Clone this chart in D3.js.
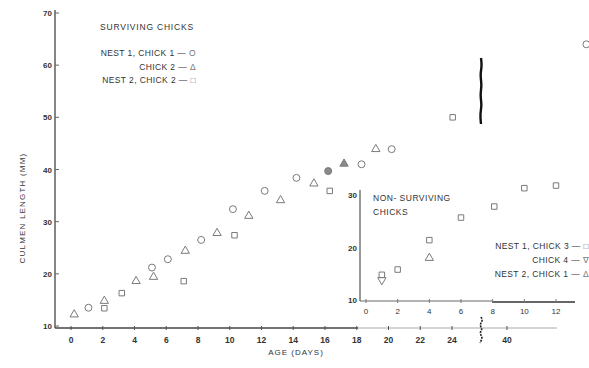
<!DOCTYPE html>
<html><head><meta charset="utf-8">
<script src="https://cdn.jsdelivr.net/npm/d3@7"></script>
<style>
body{margin:0;background:#fff;}
text{font-family:"Liberation Sans","DejaVu Sans",sans-serif;fill:#333;}
</style></head>
<body><svg id="c" width="589" height="368"></svg>
<script>
// ---- data (surviving chicks, main panel) ----
const n1c1Days = [1.1, 5.1, 6.1, 8.2, 10.2, 12.2, 14.2, 16.2, 18.3, 20.2, 45];
const n1c1Len  = [13.5, 21.2, 22.8, 26.5, 32.4, 35.9, 38.4, 39.7, 41.0, 43.9, 64.0];
const n1c2Days = [0.2, 2.1, 4.1, 5.2, 7.2, 9.2, 11.2, 13.2, 15.3, 17.2, 19.2];
const n1c2Len  = [12.2, 14.8, 18.6, 19.4, 24.4, 27.8, 31.1, 34.1, 37.3, 41.1, 43.9];
const n2c2Days = [2.1, 3.2, 7.1, 10.3, 16.3, 24.2];
const n2c2Len  = [13.4, 16.3, 18.6, 27.4, 35.9, 50.0];
const filledDays = [16.2, 17.2];
const mainXTicks = [0,2,4,6,8,10,12,14,16,18,20,22,24,40];
const mainYTicks = [10,20,30,40,50,60,70];
// ---- data (non-surviving chicks, inset) ----
const n1c3Days = [1, 2, 4, 6, 8.1, 10, 12];
const n1c3Len  = [14.8, 15.8, 21.4, 25.7, 27.8, 31.3, 31.8];
const n1c4Days = [1];
const n1c4Len  = [13.8];
const n2c1Days = [4];
const n2c1Len  = [18.0];
const insetXTicks = [0,2,4,6,8,10,12];
const insetYTicks = [10,20,30];

const svg = d3.select("#c");
const grey = "#7a7a7a";

// main scales (broken axis between 24 and 40 days)
const x = d3.scaleLinear().domain([0, 24, 40, 45]).range([71, 452, 507, 586.4]);
const y = d3.scaleLinear().domain([10, 70]).range([326, 13]);

// main y axis
svg.append("line").attr("x1",55).attr("x2",55).attr("y1",10).attr("y2",328)
  .attr("stroke","#444").attr("stroke-width",1.3);
mainYTicks.forEach(v=>{
  svg.append("line").attr("x1",55).attr("x2",59).attr("y1",y(v)).attr("y2",y(v)).attr("stroke","#666");
  svg.append("text").attr("x",52).attr("y",y(v)+3).attr("text-anchor","end")
    .attr("font-size",8).attr("font-weight","bold").text(v);
});
// main x axis
svg.append("line").attr("x1",55).attr("x2",358).attr("y1",328).attr("y2",328)
  .attr("stroke","#444").attr("stroke-width",1.3);
svg.append("line").attr("x1",358).attr("x2",557).attr("y1",328).attr("y2",328)
  .attr("stroke","#aaa").attr("stroke-width",1);
mainXTicks.forEach(v=>{
  svg.append("line").attr("x1",x(v)).attr("x2",x(v)).attr("y1",326).attr("y2",330).attr("stroke","#555");
  svg.append("text").attr("x",x(v)).attr("y",343).attr("text-anchor","middle")
    .attr("font-size",8.5).attr("font-weight","bold").text(v);
});
// axis break squiggle
const sq = d3.line().curve(d3.curveBasis);
svg.append("path").attr("d", sq([[481,317],[483,321],[479,325],[483,329],[479,333],[483,337],[480,343]]))
  .attr("fill","none").attr("stroke","#222").attr("stroke-width",1.6).attr("stroke-dasharray","2,1");
// break line in the plot area
svg.append("path").attr("d", sq([[481,58],[482,66],[480,75],[482,85],[480,95],[482,105],[480,114],[481,124]]))
  .attr("fill","none").attr("stroke","#111").attr("stroke-width",2.4);

// titles
svg.append("text").attr("x",296).attr("y",355).attr("text-anchor","middle")
  .attr("font-size",8).attr("letter-spacing",1).text("AGE (DAYS)");
svg.append("text").attr("transform","translate(25,208) rotate(-90)").attr("text-anchor","middle")
  .attr("font-size",8).attr("letter-spacing",1.2).text("CULMEN  LENGTH  (MM)");

svg.append("text").attr("x",100).attr("y",30).attr("font-size",8.5).attr("letter-spacing",0.8).text("SURVIVING  CHICKS");
const leg = [["NEST 1,  CHICK 1  —  ","O",56],["CHICK 2  —  ","Δ",70],["NEST 2,  CHICK 2  —  ","□",83]];
leg.forEach(([t,s,yy])=>{
  const tx = svg.append("text").attr("x",196).attr("y",yy).attr("text-anchor","end")
    .attr("font-size",8.5).attr("letter-spacing",0.4);
  tx.append("tspan").text(t);
  tx.append("tspan").attr("fill","#777").text(s);
});

// markers
function drawSet(days, lens, sc, scy, type, rot){
  const sym = d3.symbol().type(type).size(type===d3.symbolSquare?30:(type===d3.symbolCircle?38:30));
  svg.append("g").selectAll("path").data(days.map((d,i)=>[d,lens[i]])).join("path")
    .attr("d", sym)
    .attr("transform", d=>`translate(${sc(d[0])},${scy(d[1])}) rotate(${rot||0})`)
    .attr("fill", d=>filledDays.includes(d[0]) ? "#8a8a8a" : "none")
    .attr("stroke", grey).attr("stroke-width",1);
}
drawSet(n1c1Days, n1c1Len, x, y, d3.symbolCircle);
drawSet(n1c2Days, n1c2Len, x, y, d3.symbolTriangle);
drawSet(n2c2Days, n2c2Len, x, y, d3.symbolSquare);

// ---- inset ----
const xi = d3.scaleLinear().domain([0, 12]).range([366, 556]);
const yi = d3.scaleLinear().domain([10, 30]).range([300, 195]);
svg.append("line").attr("x1",360).attr("x2",360).attr("y1",190).attr("y2",301)
  .attr("stroke","#555").attr("stroke-width",1.2);
svg.append("line").attr("x1",360).attr("x2",492).attr("y1",301).attr("y2",301)
  .attr("stroke","#666").attr("stroke-width",1);
svg.append("line").attr("x1",492).attr("x2",575).attr("y1",302).attr("y2",302)
  .attr("stroke","#333").attr("stroke-width",1.5);
insetYTicks.forEach(v=>{
  svg.append("text").attr("x",357).attr("y",yi(v)+3).attr("text-anchor","end")
    .attr("font-size",8).attr("font-weight","bold").text(v);
});
insetXTicks.forEach(v=>{
  svg.append("line").attr("x1",xi(v)).attr("x2",xi(v)).attr("y1",299).attr("y2",303).attr("stroke","#777");
  svg.append("text").attr("x",xi(v)).attr("y",314).attr("text-anchor","middle")
    .attr("font-size",8).text(v);
});
svg.append("text").attr("x",373).attr("y",201).attr("font-size",8.5).attr("letter-spacing",0.5).text("NON- SURVIVING");
svg.append("text").attr("x",373).attr("y",215).attr("font-size",8.5).attr("letter-spacing",0.5).text("CHICKS");
const leg2 = [["NEST 1,  CHICK 3 — ","□",249],["CHICK 4 — ","∇",263],["NEST 2,  CHICK 1 — ","Δ",277]];
leg2.forEach(([t,s,yy])=>{
  const tx = svg.append("text").attr("x",589).attr("y",yy).attr("text-anchor","end")
    .attr("font-size",8.5).attr("letter-spacing",0.4);
  tx.append("tspan").text(t);
  tx.append("tspan").attr("fill","#777").text(s);
});

drawSet(n1c3Days, n1c3Len, xi, yi, d3.symbolSquare);
drawSet(n1c4Days, n1c4Len, xi, yi, d3.symbolTriangle, 180);
drawSet(n2c1Days, n2c1Len, xi, yi, d3.symbolTriangle);
</script></body></html>
